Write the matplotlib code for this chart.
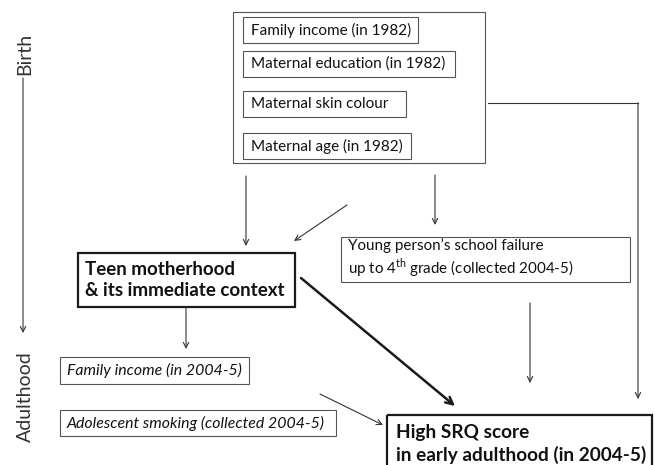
import matplotlib
matplotlib.use("Agg")
import matplotlib.pyplot as plt
from matplotlib.patches import Rectangle, FancyArrowPatch

plt.rcParams['font.family'] = ['Lato', 'DejaVu Sans']
plt.rcParams['mathtext.fontset'] = 'custom'
plt.rcParams['mathtext.rm'] = 'Lato'

# timeline labels
time_labels = ["Birth", "Adulthood"]

# birth-level covariates (grouped in the outer box)
birth_labels = ["Family income (in 1982)", "Maternal education (in 1982)",
                "Maternal skin colour", "Maternal age (in 1982)"]

# other nodes
exposure_label = "Teen motherhood\n& its immediate context"
school_label = "Young person\u2019s school failure\nup to 4$^{\\mathrm{th}}$ grade (collected 2004-5)"
adult_labels = ["Family income (in 2004-5)", "Adolescent smoking (collected 2004-5)"]
outcome_label = "High SRQ score\nin early adulthood (in 2004-5)"

# box geometry: (x0, y0, x1, y1) in pixels
birth_boxes = [(243, 17, 418, 43), (243, 51, 455, 77),
               (243, 91, 406, 117), (243, 133, 411, 159)]
adult_boxes = [(60, 357, 249, 384), (60, 410, 336, 436)]

W, H = 655, 465
fig = plt.figure(figsize=(W / 100, H / 100), dpi=100)
ax = fig.add_axes([0, 0, 1, 1])
ax.set_xlim(0, W)
ax.set_ylim(H, 0)
ax.axis('off')

grey = '#555555'
dark = '#1a1a1a'
txt = '#111111'


def box(x0, y0, x1, y1, lw=0.8, color=grey):
    ax.add_patch(Rectangle((x0, y0), x1 - x0, y1 - y0, fill=False,
                           lw=lw, edgecolor=color))


def arrow(p0, p1, lw=0.8, color='#333333', head=6):
    ax.add_patch(FancyArrowPatch(p0, p1, arrowstyle='->',
                                 mutation_scale=head * 1.6, lw=lw,
                                 color=color, shrinkA=0, shrinkB=0))


# timeline
ax.text(25, 54, time_labels[0], rotation=90, ha='center', va='center',
        fontsize=14, color='#333333')
arrow((23, 78), (23, 333))
ax.text(25, 397, time_labels[1], rotation=90, ha='center', va='center',
        fontsize=14, color='#333333')

# birth covariates
box(233, 12, 485, 163)
for (x0, y0, x1, y1), lab in zip(birth_boxes, birth_labels):
    box(x0, y0, x1, y1)
    ax.text(x0 + 8, (y0 + y1) / 2, lab, ha='left', va='center',
            fontsize=11, color=txt)

# connector from outer box to outcome
ax.plot([488, 638], [103, 103], color='#333333', lw=0.8)
arrow((638, 103), (638, 399))

arrow((246, 176), (246, 246))
arrow((347, 205), (294, 241))
arrow((435, 175), (435, 225))

# school failure
box(341, 237, 630, 282)
ax.text(348, 259, school_label, ha='left', va='center', fontsize=10.9,
        color=txt, linespacing=1.15)
arrow((530, 303), (530, 383))

# exposure
box(78, 253, 295, 307, lw=1.6, color=dark)
ax.text(85, 280, exposure_label, ha='left', va='center', fontsize=13.5,
        fontweight='bold', color=txt, linespacing=1.3)
arrow((186, 307), (186, 349))
arrow((301, 278), (455, 406), lw=1.8, color=dark, head=8)

# adulthood covariates
for (x0, y0, x1, y1), lab in zip(adult_boxes, adult_labels):
    box(x0, y0, x1, y1)
    ax.text(x0 + 7, (y0 + y1) / 2, lab, ha='left', va='center',
            fontsize=11.4, style='italic', color=txt)
arrow((320, 394), (383, 425))

# outcome
box(387, 415, 652, 480, lw=1.6, color=dark)
ax.text(396, 444, outcome_label, ha='left', va='center', fontsize=13.7,
        fontweight='bold', color=txt, linespacing=1.35)

fig.savefig('out.png', dpi=100)
